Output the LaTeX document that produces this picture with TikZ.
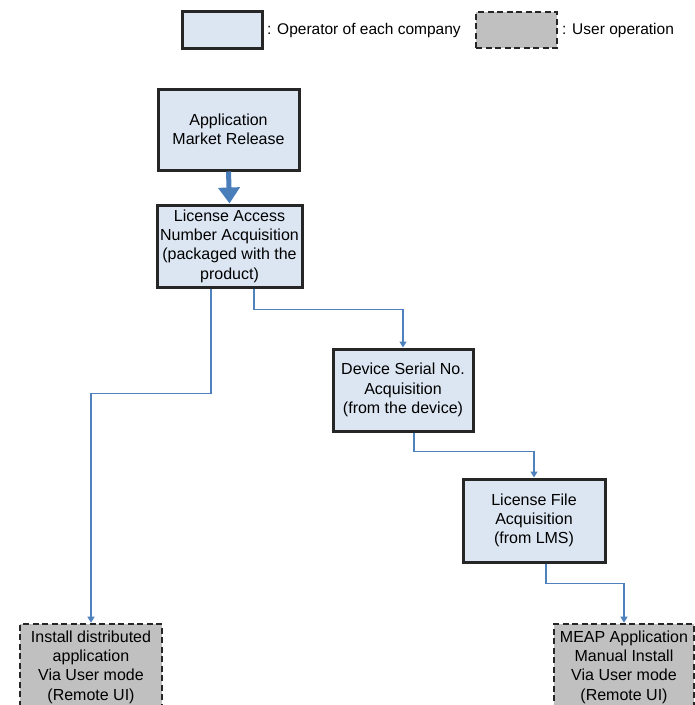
\documentclass[tikz,border=0pt]{standalone}
\usepackage{fontspec}
\setmainfont{Liberation Sans}
\usetikzlibrary{arrows.meta}
\definecolor{boxfill}{HTML}{DCE6F2}
\definecolor{userfill}{HTML}{C0C0C0}
\definecolor{edge}{HTML}{262626}
\definecolor{conncol}{HTML}{4F81BD}
\definecolor{bigarrow}{HTML}{4A7EBB}
\begin{document}
\begin{tikzpicture}[x=1pt,y=-1pt,
  every node/.style={font=\fontsize{16}{19.3}\selectfont, text=black},
  opbox/.style={draw=edge, line width=3pt, fill=boxfill, align=center, inner sep=0pt, minimum width=141pt, minimum height=81pt},
  userbox/.style={draw=edge, line width=2.6pt, dash pattern=on 6pt off 3.5pt, fill=userfill, align=center, inner sep=0pt, minimum width=141pt, minimum height=84pt},
  conn/.style={draw=conncol, line width=1.2pt, -{Triangle[width=7pt,length=6pt]}},
  thickarrow/.style={draw=bigarrow, line width=5pt, -{Triangle[width=21pt,length=16pt]}},
  legtext/.style={anchor=west, inner sep=0pt, font=\fontsize{15.5}{19}\selectfont}]
\useasboundingbox (0,0) rectangle (695,705);
% legend
\node[opbox, minimum width=80pt, minimum height=37pt] (legop) at (222,29.5) {};
\node[legtext] (legoptext) at (267,30) {: Operator of each company};
\node[userbox, minimum width=81pt, minimum height=36pt] (leguser) at (516.5,30) {};
\node[legtext] (legusertext) at (562,30) {: User operation};
% boxes
\node[opbox] (b1) at (228.5,129.5) {Application\\Market Release};
\node[opbox, minimum width=145pt, minimum height=82pt] (b2) at (229.5,246) {License Access\\Number Acquisition\\(packaged with the\\product)};
\node[opbox, minimum width=140pt, minimum height=82pt] (b3) at (403,390) {Device Serial No.\\Acquisition\\(from the device)};
\node[opbox, minimum width=142pt, minimum height=83pt] (b4) at (534,520.5) {License File\\Acquisition\\(from LMS)};
\node[userbox, minimum width=142pt, minimum height=86pt] (b5) at (91,667) {Install distributed\\application\\Via User mode\\(Remote UI)};
\node[userbox, minimum width=140pt, minimum height=86pt] (b6) at (624,667) {MEAP Application\\Manual Install\\Via User mode\\(Remote UI)};
% connectors
\draw[thickarrow] (b1.south) -- (b2.north);
\draw[conn] ([xshift=-18.5pt]b2.south) -- ++(0,105) -| (b5.north);
\draw[conn] ([xshift=24.5pt]b2.south) -- ++(0,21) -| (b3.north);
\draw[conn] ([xshift=11pt]b3.south) -- ++(0,19) -| (b4.north);
\draw[conn] ([xshift=12pt]b4.south) -- ++(0,20) -| (b6.north);
\end{tikzpicture}
\end{document}
